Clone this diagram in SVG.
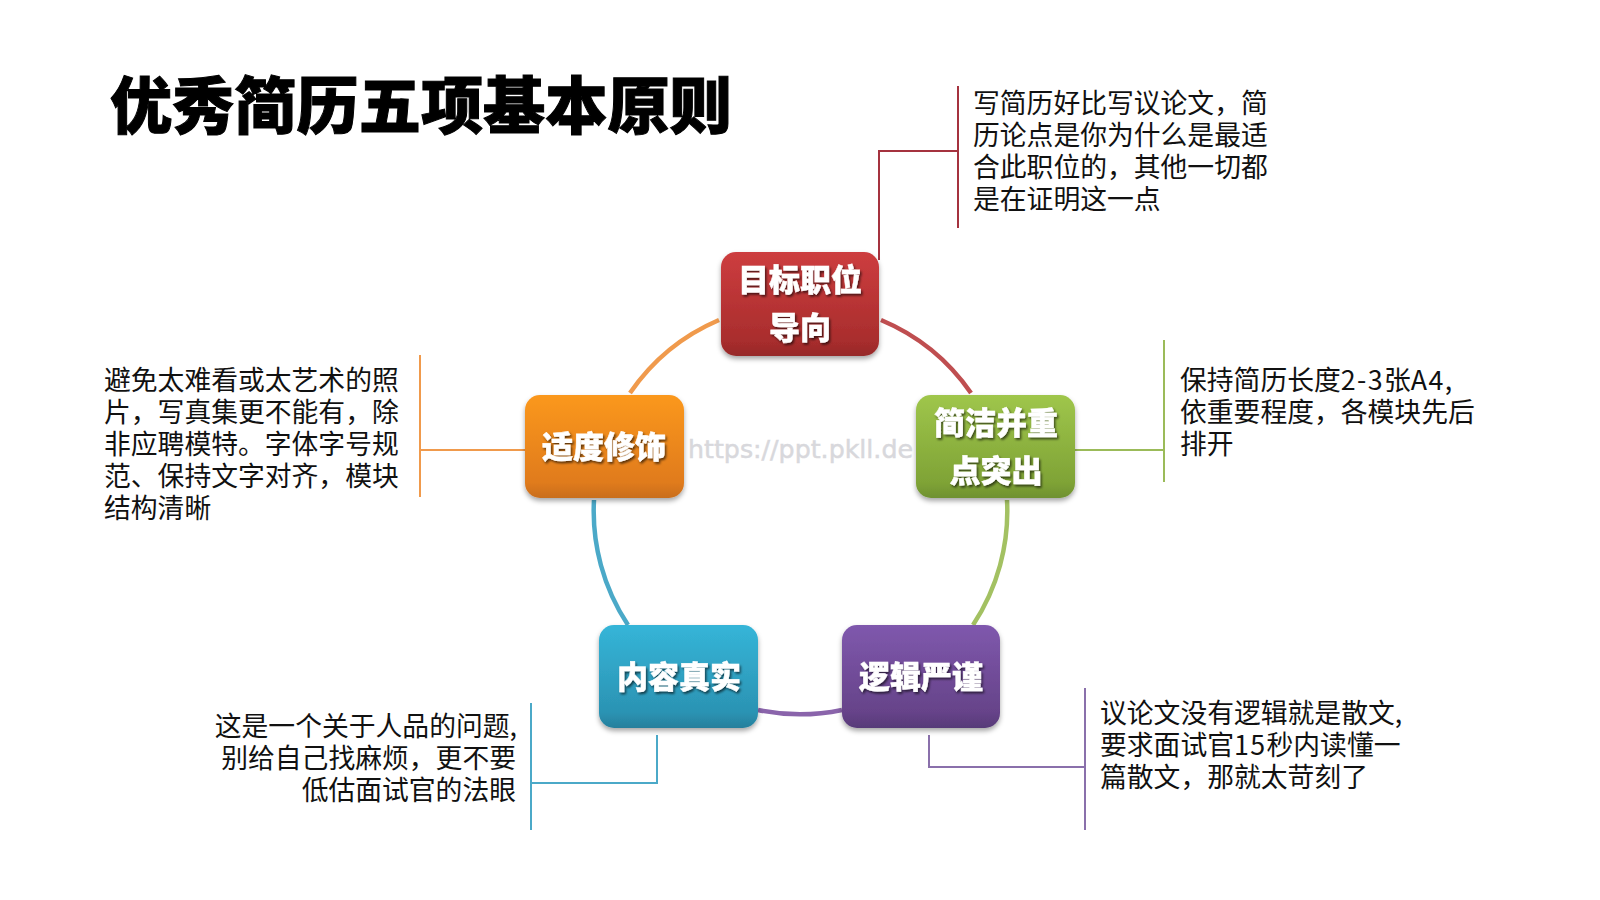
<svg xmlns="http://www.w3.org/2000/svg" width="1600" height="900" viewBox="0 0 1600 900">
<style>
text{font-family:"Noto Sans CJK SC","Noto Sans",sans-serif}
.title{font-size:62.2px;font-weight:900;fill:#000;stroke:#000;stroke-width:1px}
.body{font-size:26.8px;fill:#111}
.end{text-anchor:end}
.lat{letter-spacing:1.4px}
.lab{font-size:31px;font-weight:900;fill:#fff;stroke:#fff;stroke-width:.4px;text-anchor:middle;filter:url(#ts)}
.box{stroke:none;filter:url(#ds)}
.arc{fill:none;stroke-width:4.5px}
.ln{fill:none;stroke-width:2px}
.wm{font-family:"DejaVu Sans",sans-serif;font-size:25px;fill:#d8d8dc;stroke:#d8d8dc;stroke-width:.5px}
</style>
<defs>
<filter id="ds" x="-20%" y="-20%" width="140%" height="140%"><feDropShadow dx="0" dy="3" stdDeviation="2.5" flood-color="#000" flood-opacity=".35"/></filter>
<filter id="ts" x="-20%" y="-20%" width="140%" height="140%"><feDropShadow dx="1.5" dy="2" stdDeviation="1" flood-color="#000" flood-opacity=".6"/></filter>
<linearGradient id="gr" x1="0" y1="0" x2="0" y2="1"><stop offset="0" stop-color="#cd3d3f"/><stop offset=".85" stop-color="#a92d2d"/><stop offset="1" stop-color="#962a2a"/></linearGradient>
<linearGradient id="gg" x1="0" y1="0" x2="0" y2="1"><stop offset="0" stop-color="#9fc64b"/><stop offset=".85" stop-color="#7fa336"/><stop offset="1" stop-color="#6f9130"/></linearGradient>
<linearGradient id="go" x1="0" y1="0" x2="0" y2="1"><stop offset="0" stop-color="#fb981f"/><stop offset=".85" stop-color="#e07b1c"/><stop offset="1" stop-color="#c96e1f"/></linearGradient>
<linearGradient id="gb" x1="0" y1="0" x2="0" y2="1"><stop offset="0" stop-color="#35b5d8"/><stop offset=".85" stop-color="#2b93b3"/><stop offset="1" stop-color="#267f9c"/></linearGradient>
<linearGradient id="gp" x1="0" y1="0" x2="0" y2="1"><stop offset="0" stop-color="#7f58ad"/><stop offset=".85" stop-color="#664389"/><stop offset="1" stop-color="#573a78"/></linearGradient>
</defs>
<rect width="1600" height="900" fill="#fff"/>
<text class="title" x="110" y="129">优秀简历五项基本原则</text>
<g id="connectors">
<path class="arc" stroke="#bf4e50" d="M881 320A206 206 0 0 1 971 393"/>
<path class="arc" stroke="#a3c162" d="M1007 500A206 206 0 0 1 973 625"/>
<path class="arc" stroke="#8a64ab" d="M842 710A206 206 0 0 1 758 710"/>
<path class="arc" stroke="#4ba9c8" d="M628 625A206 206 0 0 1 594 500"/>
<path class="arc" stroke="#f09a4c" d="M630 393A206 206 0 0 1 719 320"/>
<path class="ln" stroke="#a5333f" d="M958 86V228M958 151H879V260"/>
<path class="ln" stroke="#9bbb59" d="M1164 340V482M1164 450H1075"/>
<path class="ln" stroke="#f09a4c" d="M420 355V497M420 450H525"/>
<path class="ln" stroke="#4ba9c8" d="M531 703V830M531 783H657V735"/>
<path class="ln" stroke="#8a70ab" d="M1085 688V830M1085 767H929V735"/>
</g>
<text class="wm" x="688" y="458" textLength="225" lengthAdjust="spacingAndGlyphs">https://ppt.pkll.de</text>
<g id="node-target"><rect class="box" fill="url(#gr)" x="721" y="252" width="158" height="104" rx="15"/><text class="lab" x="800" y="291">目标职位</text><text class="lab" x="800" y="339">导向</text></g>
<g id="node-concise"><rect class="box" fill="url(#gg)" x="916" y="395" width="159" height="103" rx="15"/><text class="lab" x="996" y="434">简洁并重</text><text class="lab" x="996" y="482">点突出</text></g>
<g id="node-modify"><rect class="box" fill="url(#go)" x="525" y="395" width="159" height="103" rx="15"/><text class="lab" x="604" y="458">适度修饰</text></g>
<g id="node-real"><rect class="box" fill="url(#gb)" x="599" y="625" width="159" height="103" rx="15"/><text class="lab" x="679" y="688">内容真实</text></g>
<g id="node-logic"><rect class="box" fill="url(#gp)" x="842" y="625" width="158" height="103" rx="15"/><text class="lab" x="921" y="688">逻辑严谨</text></g>
<g id="text-target"><text class="body"><tspan x="973" y="113">写简历好比写议论文，简</tspan><tspan x="973" y="145">历论点是你为什么是最适</tspan><tspan x="973" y="177">合此职位的，其他一切都</tspan><tspan x="973" y="209">是在证明这一点</tspan></text></g>
<g id="text-concise"><text class="body"><tspan x="1180" y="390">保持简历长度<tspan class="lat">2-3</tspan>张<tspan class="lat">A4,</tspan></tspan><tspan x="1180" y="422">依重要程度，各模块先后</tspan><tspan x="1180" y="454">排开</tspan></text></g>
<g id="text-modify"><text class="body"><tspan x="104" y="390">避免太难看或太艺术的照</tspan><tspan x="104" y="422">片，写真集更不能有，除</tspan><tspan x="104" y="454">非应聘模特。字体字号规</tspan><tspan x="104" y="486">范、保持文字对齐，模块</tspan><tspan x="104" y="518">结构清晰</tspan></text></g>
<g id="text-real"><text class="body end"><tspan x="517" y="736">这是一个关于人品的问题,</tspan><tspan x="516" y="768">别给自己找麻烦，更不要</tspan><tspan x="516" y="800">低估面试官的法眼</tspan></text></g>
<g id="text-logic"><text class="body"><tspan x="1100" y="723">议论文没有逻辑就是散文,</tspan><tspan x="1100" y="755">要求面试官<tspan class="lat">15</tspan>秒内读懂一</tspan><tspan x="1100" y="787">篇散文，那就太苛刻了</tspan></text></g>
</svg>
